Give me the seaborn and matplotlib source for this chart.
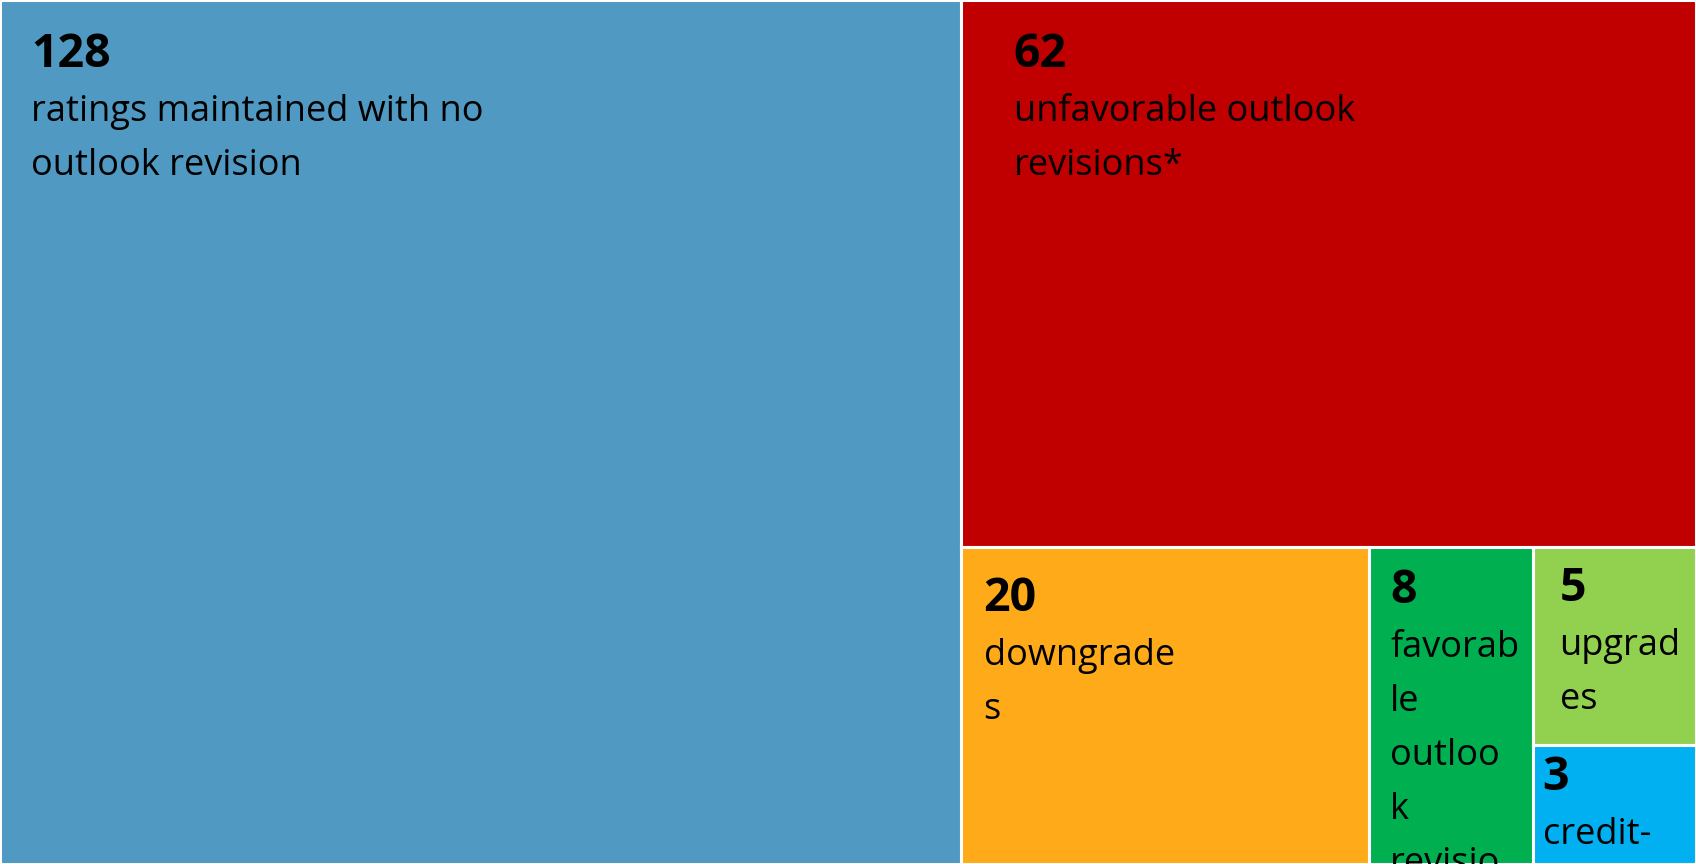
import matplotlib
matplotlib.use("Agg")
import matplotlib.pyplot as plt
import seaborn as sns

sns.set_theme(style="white")
plt.rcParams['font.family'] = ['Open Sans', 'DejaVu Sans']

# ---- data ----
values = [128, 62, 20, 8, 5, 3]
numbers = ["128", "62", "20", "8", "5", "3"]
label_lines = [
    ["ratings maintained with no", "outlook revision"],
    ["unfavorable outlook", "revisions*"],
    ["downgrade", "s"],
    ["favorab", "le", "outloo", "k", "revisio", "ns"],
    ["upgrad", "es"],
    ["credit-", "watch", "placem", "ents"],
]
colors = ["#4F99C2", "#C00000", "#FFAB19", "#00B050", "#92D050", "#00B0F0"]

# text offsets from each tile's top-left corner (pixels): (dx, baseline dy)
text_offsets = [(31, 67), (53, 67), (23, 64), (21, 56), (27, 54), (10, 45)]
LINE_STEP = 54

W, H = 1696.0, 864.0


def worst(row, w):
    s = sum(row)
    rmax, rmin = max(row), min(row)
    return max(w * w * rmax / (s * s), s * s / (w * w * rmin))


def squarify(vals, x, y, w, h):
    total = sum(vals)
    scale = w * h / total
    areas = [v * scale for v in vals]
    rects = []
    i = 0
    while i < len(areas):
        short = min(w, h)
        row = [areas[i]]
        j = i + 1
        while j < len(areas) and worst(row + [areas[j]], short) <= worst(row, short):
            row.append(areas[j])
            j += 1
        s = sum(row)
        if w >= h:  # column on the left
            cw = s / h
            cy = y
            for a in row:
                rh = a / cw
                rects.append((x, cy, cw, rh))
                cy += rh
            x += cw
            w -= cw
        else:  # row on top
            rh = s / w
            cx = x
            for a in row:
                rw = a / rh
                rects.append((cx, y, rw, rh))
                cx += rw
            y += rh
            h -= rh
        i = j
    return rects


rects = squarify(values, 0.0, 0.0, W, H)

fig = plt.figure(figsize=(16.96, 8.64), dpi=100)
ax = fig.add_axes([0, 0, 1, 1])
ax.set_xlim(0, W)
ax.set_ylim(H, 0)
ax.axis("off")

bars = ax.bar([r[0] for r in rects], [r[3] for r in rects], width=[r[2] for r in rects],
              bottom=[r[1] for r in rects], align="edge", color=colors,
              edgecolor="white", linewidth=2.2)

for (rx, ry, rw, rh), patch, num, lines, (dx, dy) in zip(rects, bars.patches, numbers,
                                                         label_lines, text_offsets):
    t = ax.annotate(num, xy=(rx, ry), xytext=(dx, -dy), textcoords="offset pixels",
                    ha="left", va="baseline", fontsize=33.5, fontweight="bold",
                    color="black", annotation_clip=False)
    t.set_clip_path(patch)
    for k, line in enumerate(lines):
        tl = ax.annotate(line, xy=(rx, ry), xytext=(dx, -(dy + LINE_STEP * (k + 1))),
                         textcoords="offset pixels", ha="left", va="baseline",
                         fontsize=26, color="black", annotation_clip=False)
        tl.set_clip_path(patch)

fig.savefig("out.png", dpi=100)
